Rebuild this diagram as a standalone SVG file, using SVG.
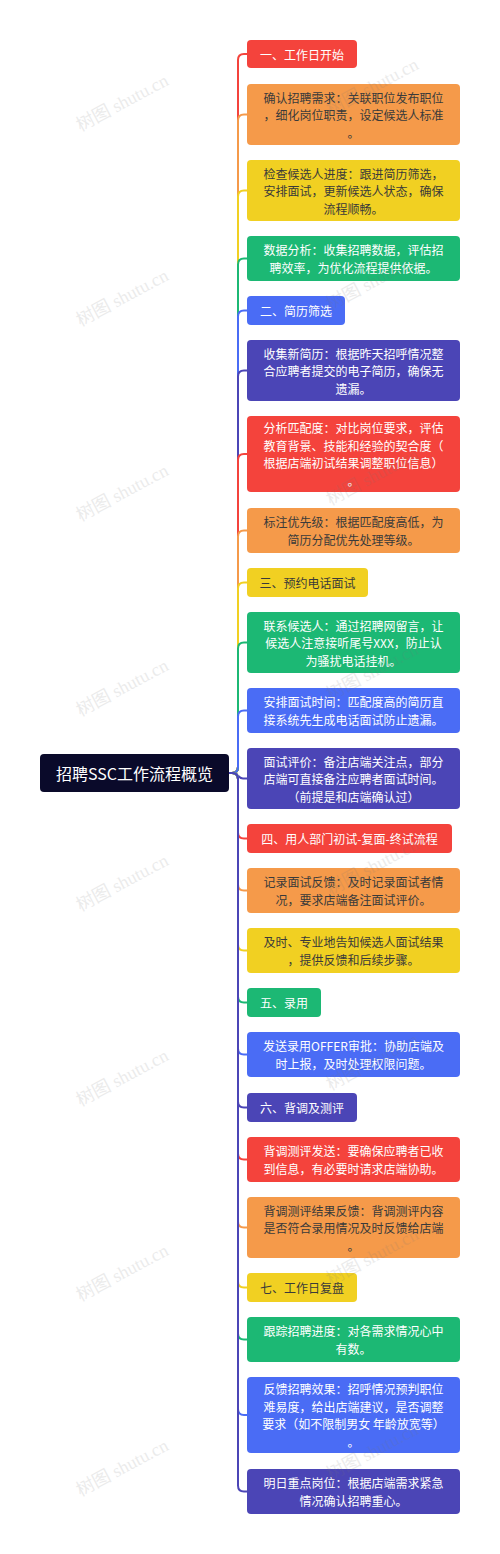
<svg xmlns="http://www.w3.org/2000/svg" width="500" height="1554" viewBox="0 0 500 1554">
<style>
.t{font-family:"Noto Sans CJK SC","Liberation Sans",sans-serif;font-size:12px;text-anchor:middle;dominant-baseline:central}
.w{fill:#ffffff}.d{fill:#3a3a3a}
.c{fill:none;stroke-width:2}
.wm{font-family:"Liberation Serif","Noto Sans CJK SC",serif;font-size:18px;fill:#777;opacity:0.14;text-anchor:middle}
</style>
<rect width="500" height="1554" fill="#ffffff"/>
<g id="connectors">
<path class="c" stroke="#F4433C" d="M229,773 H232 Q238,773 238,767 V60 Q238,54 244,54 H247"/>
<path class="c" stroke="#F59A4A" d="M229,773 H232 Q238,773 238,767 V120.5 Q238,114.5 244,114.5 H247"/>
<path class="c" stroke="#F1D022" d="M229,773 H232 Q238,773 238,767 V196.5 Q238,190.5 244,190.5 H247"/>
<path class="c" stroke="#1CB874" d="M229,773 H232 Q238,773 238,767 V264.5 Q238,258.5 244,258.5 H247"/>
<path class="c" stroke="#4A6CF5" d="M229,773 H232 Q238,773 238,767 V316.5 Q238,310.5 244,310.5 H247"/>
<path class="c" stroke="#4B45B6" d="M229,773 H232 Q238,773 238,767 V376.5 Q238,370.5 244,370.5 H247"/>
<path class="c" stroke="#F4433C" d="M229,773 H232 Q238,773 238,767 V460 Q238,454 244,454 H247"/>
<path class="c" stroke="#F59A4A" d="M229,773 H232 Q238,773 238,767 V536.5 Q238,530.5 244,530.5 H247"/>
<path class="c" stroke="#F1D022" d="M229,773 H232 Q238,773 238,767 V588.5 Q238,582.5 244,582.5 H247"/>
<path class="c" stroke="#1CB874" d="M229,773 H232 Q238,773 238,767 V648.5 Q238,642.5 244,642.5 H247"/>
<path class="c" stroke="#4A6CF5" d="M229,773 H232 Q238,773 238,767 V716.5 Q238,710.5 244,710.5 H247"/>
<path class="c" stroke="#4B45B6" d="M229,773 H233 C238,773 238,778.5 243,778.5 H247"/>
<path class="c" stroke="#F4433C" d="M229,773 H232 Q238,773 238,779 V832.5 Q238,838.5 244,838.5 H247"/>
<path class="c" stroke="#F59A4A" d="M229,773 H232 Q238,773 238,779 V884.5 Q238,890.5 244,890.5 H247"/>
<path class="c" stroke="#F1D022" d="M229,773 H232 Q238,773 238,779 V944.5 Q238,950.5 244,950.5 H247"/>
<path class="c" stroke="#1CB874" d="M229,773 H232 Q238,773 238,779 V996.5 Q238,1002.5 244,1002.5 H247"/>
<path class="c" stroke="#4A6CF5" d="M229,773 H232 Q238,773 238,779 V1048.5 Q238,1054.5 244,1054.5 H247"/>
<path class="c" stroke="#4B45B6" d="M229,773 H232 Q238,773 238,779 V1101.5 Q238,1107.5 244,1107.5 H247"/>
<path class="c" stroke="#F4433C" d="M229,773 H232 Q238,773 238,779 V1153.5 Q238,1159.5 244,1159.5 H247"/>
<path class="c" stroke="#F59A4A" d="M229,773 H232 Q238,773 238,779 V1221.5 Q238,1227.5 244,1227.5 H247"/>
<path class="c" stroke="#F1D022" d="M229,773 H232 Q238,773 238,779 V1281.5 Q238,1287.5 244,1287.5 H247"/>
<path class="c" stroke="#1CB874" d="M229,773 H232 Q238,773 238,779 V1333.5 Q238,1339.5 244,1339.5 H247"/>
<path class="c" stroke="#4A6CF5" d="M229,773 H232 Q238,773 238,779 V1409 Q238,1415 244,1415 H247"/>
<path class="c" stroke="#4B45B6" d="M229,773 H232 Q238,773 238,779 V1485.5 Q238,1491.5 244,1491.5 H247"/>
</g>
<g id="root">
<rect x="40" y="754" width="189" height="38" rx="4" fill="#0A0A2A"/>
<text x="134.5" y="773" class="t w" style="font-size:16px">招聘SSC工作流程概览</text>
</g>
<g id="n1"><rect x="247" y="40" width="110" height="28" rx="4" fill="#F4433C"/><text class="t w" x="302" y="54">一、工作日开始</text></g>
<g id="n2"><rect x="247" y="84" width="213" height="61" rx="4" fill="#F59A4A"/><text class="t d" x="353.5" y="97">确认招聘需求：关联职位发布职位</text><text class="t d" x="353.5" y="114.5">，细化岗位职责，设定候选人标准</text><text class="t d" x="353.5" y="132">。</text></g>
<g id="n3"><rect x="247" y="160" width="213" height="61" rx="4" fill="#F1D022"/><text class="t d" x="353.5" y="173">检查候选人进度：跟进简历筛选，</text><text class="t d" x="353.5" y="190.5">安排面试，更新候选人状态，确保</text><text class="t d" x="353.5" y="208">流程顺畅。</text></g>
<g id="n4"><rect x="247" y="236" width="213" height="45" rx="4" fill="#1CB874"/><text class="t w" x="353.5" y="249.75">数据分析：收集招聘数据，评估招</text><text class="t w" x="353.5" y="267.25">聘效率，为优化流程提供依据。</text></g>
<g id="n5"><rect x="247" y="296" width="98" height="29" rx="4" fill="#4A6CF5"/><text class="t w" x="296" y="310.5">二、简历筛选</text></g>
<g id="n6"><rect x="247" y="340" width="213" height="61" rx="4" fill="#4B45B6"/><text class="t w" x="353.5" y="353">收集新简历：根据昨天招呼情况整</text><text class="t w" x="353.5" y="370.5">合应聘者提交的电子简历，确保无</text><text class="t w" x="353.5" y="388">遗漏。</text></g>
<g id="n7"><rect x="247" y="416" width="213" height="76" rx="4" fill="#F4433C"/><text class="t w" x="353.5" y="427.75">分析匹配度：对比岗位要求，评估</text><text class="t w" x="353.5" y="445.25">教育背景、技能和经验的契合度（</text><text class="t w" x="353.5" y="462.75">根据店端初试结果调整职位信息）</text><text class="t w" x="353.5" y="480.25">。</text></g>
<g id="n8"><rect x="247" y="508" width="213" height="45" rx="4" fill="#F59A4A"/><text class="t d" x="353.5" y="521.75">标注优先级：根据匹配度高低，为</text><text class="t d" x="353.5" y="539.25">简历分配优先处理等级。</text></g>
<g id="n9"><rect x="247" y="568" width="121" height="29" rx="4" fill="#F1D022"/><text class="t d" x="307.5" y="582.5">三、预约电话面试</text></g>
<g id="n10"><rect x="247" y="612" width="213" height="61" rx="4" fill="#1CB874"/><text class="t w" x="353.5" y="625">联系候选人：通过招聘网留言，让</text><text class="t w" x="353.5" y="642.5">候选人注意接听尾号XXX，防止认</text><text class="t w" x="353.5" y="660">为骚扰电话挂机。</text></g>
<g id="n11"><rect x="247" y="688" width="213" height="45" rx="4" fill="#4A6CF5"/><text class="t w" x="353.5" y="701.75">安排面试时间：匹配度高的简历直</text><text class="t w" x="353.5" y="719.25">接系统先生成电话面试防止遗漏。</text></g>
<g id="n12"><rect x="247" y="748" width="213" height="61" rx="4" fill="#4B45B6"/><text class="t w" x="353.5" y="761">面试评价：备注店端关注点，部分</text><text class="t w" x="353.5" y="778.5">店端可直接备注应聘者面试时间。</text><text class="t w" x="353.5" y="796">（前提是和店端确认过）</text></g>
<g id="n13"><rect x="247" y="824" width="205" height="29" rx="4" fill="#F4433C"/><text class="t w" x="349.5" y="838.5">四、用人部门初试-复面-终试流程</text></g>
<g id="n14"><rect x="247" y="868" width="213" height="45" rx="4" fill="#F59A4A"/><text class="t d" x="353.5" y="881.75">记录面试反馈：及时记录面试者情</text><text class="t d" x="353.5" y="899.25">况，要求店端备注面试评价。</text></g>
<g id="n15"><rect x="247" y="928" width="213" height="45" rx="4" fill="#F1D022"/><text class="t d" x="353.5" y="941.75">及时、专业地告知候选人面试结果</text><text class="t d" x="353.5" y="959.25">，提供反馈和后续步骤。</text></g>
<g id="n16"><rect x="247" y="988" width="74" height="29" rx="4" fill="#1CB874"/><text class="t w" x="284" y="1002.5">五、录用</text></g>
<g id="n17"><rect x="247" y="1032" width="213" height="45" rx="4" fill="#4A6CF5"/><text class="t w" x="353.5" y="1045.75">发送录用OFFER审批：协助店端及</text><text class="t w" x="353.5" y="1063.25">时上报，及时处理权限问题。</text></g>
<g id="n18"><rect x="247" y="1093" width="110" height="29" rx="4" fill="#4B45B6"/><text class="t w" x="302" y="1107.5">六、背调及测评</text></g>
<g id="n19"><rect x="247" y="1137" width="213" height="45" rx="4" fill="#F4433C"/><text class="t w" x="353.5" y="1150.75">背调测评发送：要确保应聘者已收</text><text class="t w" x="353.5" y="1168.25">到信息，有必要时请求店端协助。</text></g>
<g id="n20"><rect x="247" y="1197" width="213" height="61" rx="4" fill="#F59A4A"/><text class="t d" x="353.5" y="1210">背调测评结果反馈：背调测评内容</text><text class="t d" x="353.5" y="1227.5">是否符合录用情况及时反馈给店端</text><text class="t d" x="353.5" y="1245">。</text></g>
<g id="n21"><rect x="247" y="1273" width="110" height="29" rx="4" fill="#F1D022"/><text class="t d" x="302" y="1287.5">七、工作日复盘</text></g>
<g id="n22"><rect x="247" y="1317" width="213" height="45" rx="4" fill="#1CB874"/><text class="t w" x="353.5" y="1330.75">跟踪招聘进度：对各需求情况心中</text><text class="t w" x="353.5" y="1348.25">有数。</text></g>
<g id="n23"><rect x="247" y="1377" width="213" height="76" rx="4" fill="#4A6CF5"/><text class="t w" x="353.5" y="1388.75">反馈招聘效果：招呼情况预判职位</text><text class="t w" x="353.5" y="1406.25">难易度，给出店端建议，是否调整</text><text class="t w" x="353.5" y="1423.75">要求（如不限制男女 年龄放宽等）</text><text class="t w" x="353.5" y="1441.25">。</text></g>
<g id="n24"><rect x="247" y="1469" width="213" height="45" rx="4" fill="#4B45B6"/><text class="t w" x="353.5" y="1482.75">明日重点岗位：根据店端需求紧急</text><text class="t w" x="353.5" y="1500.25">情况确认招聘重心。</text></g>
<g id="watermarks">
<text class="wm" transform="translate(125,108) rotate(-28)">树图 shutu.cn</text>
<text class="wm" transform="translate(375,92) rotate(-28)">树图 shutu.cn</text>
<text class="wm" transform="translate(125,303) rotate(-28)">树图 shutu.cn</text>
<text class="wm" transform="translate(375,287) rotate(-28)">树图 shutu.cn</text>
<text class="wm" transform="translate(125,498) rotate(-28)">树图 shutu.cn</text>
<text class="wm" transform="translate(375,482) rotate(-28)">树图 shutu.cn</text>
<text class="wm" transform="translate(125,693) rotate(-28)">树图 shutu.cn</text>
<text class="wm" transform="translate(375,677) rotate(-28)">树图 shutu.cn</text>
<text class="wm" transform="translate(125,888) rotate(-28)">树图 shutu.cn</text>
<text class="wm" transform="translate(375,872) rotate(-28)">树图 shutu.cn</text>
<text class="wm" transform="translate(125,1083) rotate(-28)">树图 shutu.cn</text>
<text class="wm" transform="translate(375,1067) rotate(-28)">树图 shutu.cn</text>
<text class="wm" transform="translate(125,1278) rotate(-28)">树图 shutu.cn</text>
<text class="wm" transform="translate(375,1262) rotate(-28)">树图 shutu.cn</text>
<text class="wm" transform="translate(125,1473) rotate(-28)">树图 shutu.cn</text>
<text class="wm" transform="translate(375,1457) rotate(-28)">树图 shutu.cn</text>
</g>
</svg>
